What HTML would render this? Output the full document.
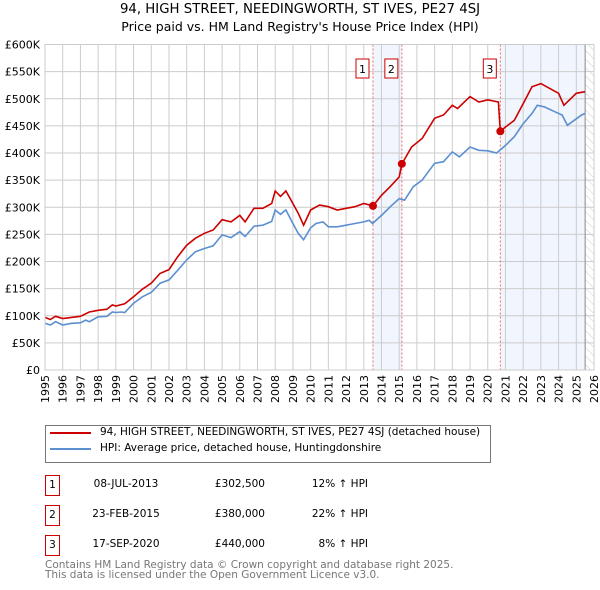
<!DOCTYPE html>
<html><head><meta charset="utf-8"><style>
body{margin:0;background:#fff;font-family:"DejaVu Sans","Liberation Sans",sans-serif;}
#wrap{position:relative;width:600px;height:590px;overflow:hidden}
</style></head><body><div id="wrap">
<svg id="svg" width="600" height="590" style="position:absolute;left:0;top:0" font-family="DejaVu Sans, Liberation Sans, sans-serif">
<defs><pattern id="hatch" width="6" height="6" patternUnits="userSpaceOnUse" patternTransform="rotate(-45)"><line x1="0" y1="0" x2="0" y2="6" stroke="#ccc" stroke-width="1"/></pattern></defs>
<text x="300" y="13" text-anchor="middle" font-size="13.3" fill="#000">94, HIGH STREET, NEEDINGWORTH, ST IVES, PE27 4SJ</text>
<text x="300" y="31" text-anchor="middle" font-size="12.5" fill="#000">Price paid vs. HM Land Registry's House Price Index (HPI)</text>
<g id="plot"></g>
</svg>
<div style="position:absolute;left:45px;top:425px;width:444px;height:36px;border:1px solid #777;font-size:10.5px">
 <div style="position:absolute;left:4px;top:6px;width:41px;height:2px;background:#cc0000"></div>
 <div style="position:absolute;left:54px;top:0px;white-space:nowrap">94, HIGH STREET, NEEDINGWORTH, ST IVES, PE27 4SJ (detached house)</div>
 <div style="position:absolute;left:4px;top:22px;width:41px;height:2px;background:#5b8fd0"></div>
 <div style="position:absolute;left:54px;top:16px;white-space:nowrap">HPI: Average price, detached house, Huntingdonshire</div>
</div>
<div id="table" style="position:absolute;left:0;top:0;font-size:10.5px"></div>
<div style="position:absolute;left:45px;top:560px;font-size:10.5px;color:#777;line-height:10px">Contains HM Land Registry data © Crown copyright and database right 2025.<br>This data is licensed under the Open Government Licence v3.0.</div>
</div>
<script>
const yTicks=[0,50,100,150,200,250,300,350,400,450,500,550,600];
const years=[1995,1996,1997,1998,1999,2000,2001,2002,2003,2004,2005,2006,2007,2008,2009,2010,2011,2012,2013,2014,2015,2016,2017,2018,2019,2020,2021,2022,2023,2024,2025,2026];
const hpiT=[1995,1995.3,1995.6,1996,1996.5,1997,1997.3,1997.5,1998,1998.5,1998.8,1999,1999.3,1999.5,2000,2000.5,2001,2001.5,2002,2002.5,2003,2003.5,2004,2004.5,2005,2005.5,2006,2006.3,2006.8,2007.3,2007.8,2008,2008.3,2008.6,2009,2009.3,2009.6,2010,2010.3,2010.7,2011,2011.5,2012,2012.5,2013,2013.3,2013.5,2014,2014.5,2015,2015.3,2015.8,2016.3,2017,2017.5,2018,2018.4,2019,2019.5,2020,2020.5,2021,2021.5,2022,2022.5,2022.8,2023.2,2023.8,2024.2,2024.5,2025,2025.3,2025.5];
const hpiV=[86,83,89,83,86,87,92,89,98,99,107,106,107,106,123,135,143,160,166,184,203,218,224,229,249,244,255,246,265,267,274,295,287,295,270,252,240,262,270,273,264,264,267,270,273,276,270,285,301,316,313,338,350,381,384,402,393,411,405,404,400,414,430,454,473,488,485,476,470,451,463,470,473];
const ppT=[1995,1995.3,1995.6,1996,1996.5,1997,1997.5,1998,1998.5,1998.8,1999,1999.5,2000,2000.5,2001,2001.5,2002,2002.5,2003,2003.5,2004,2004.5,2005,2005.5,2006,2006.3,2006.8,2007.3,2007.8,2008,2008.3,2008.6,2009,2009.3,2009.6,2010,2010.5,2011,2011.5,2012,2012.5,2013,2013.52,2014,2014.5,2015.0,2015.15,2015.7,2016.3,2017,2017.5,2018,2018.3,2019,2019.5,2020,2020.6,2020.71,2021,2021.5,2022,2022.5,2023,2023.5,2024,2024.3,2025,2025.5];
const ppV=[97,93,99,95,97,99,107,110,112,120,118,122,135,149,160,178,185,209,230,243,252,258,277,273,285,273,298,298,307,330,320,330,307,289,267,295,304,301,295,298,301,307,302.5,322,338,356,380,411,427,464,470,488,482,504,494,498,494,440,448,460,491,522,528,519,510,488,510,513];
const saleT=[2013.52,2015.15,2020.71];
const saleV=[302.5,380,440];
const saleLabels=["1","2","3"];
const saleDates=["08-JUL-2013","23-FEB-2015","17-SEP-2020"];
const salePrices=["£302,500","£380,000","£440,000"];
const saleHpi=["12% ↑ HPI","22% ↑ HPI","8% ↑ HPI"];
const dataEnd=2025.5;
const X0=45,X1=594,Y0=370,Y1=44.5;
const xs=t=>X0+(t-1995)/(2026-1995)*(X1-X0);
const ys=v=>Y0-v/600*(Y0-Y1);
const NS="http://www.w3.org/2000/svg";
const g=document.getElementById('plot');
function mk(tag,at,name){const e=document.createElementNS(NS,tag);for(const k in at)e.setAttribute(k,at[k]);


g.appendChild(e);return e;}
for(let i=0;i<saleT.length;i++){
 const end=i<saleT.length-1?saleT[i+1]:dataEnd;
 if(i===1)continue;
 mk('rect',{x:xs(saleT[i]),y:Y1,width:xs(end)-xs(saleT[i]),height:Y0-Y1,fill:'#eef3fc',opacity:0.8},'ownership-shade');
}
mk('rect',{x:xs(dataEnd),y:Y1,width:X1-xs(dataEnd),height:Y0-Y1,fill:'url(#hatch)'},'future-hatch');
yTicks.forEach(v=>{mk('line',{x1:X0,x2:X1,y1:ys(v),y2:ys(v),stroke:'#ccc','stroke-width':1},'y-gridline');
 const t=mk('text',{x:X0-5,y:ys(v)+4,'text-anchor':'end','font-size':'11',fill:'#000'},'y-tick-label');t.textContent=v===0?'£0':'£'+v+'K';});
years.forEach(y=>{mk('line',{x1:xs(y),x2:xs(y),y1:Y1,y2:Y0,stroke:'#ccc','stroke-width':1},'x-gridline');
 const t=mk('text',{x:0,y:0,'text-anchor':'end','font-size':'11',fill:'#000',transform:`translate(${xs(y)+4},${Y0+5}) rotate(-90)`},'x-tick-label');t.textContent=y;});
mk('line',{x1:xs(dataEnd),x2:xs(dataEnd),y1:Y1,y2:Y0,stroke:'#888','stroke-width':1},'data-end-line');
saleT.forEach((t,i)=>{mk('line',{x1:xs(t),x2:xs(t),y1:Y1,y2:Y0,stroke:'#e66','stroke-width':1,'stroke-dasharray':'2,2'},'sale-marker-line');});
const pts=(T,V)=>T.map((t,i)=>xs(t).toFixed(1)+','+ys(V[i]).toFixed(1)).join(' ');
mk('polyline',{points:pts(hpiT,hpiV),fill:'none',stroke:'#5b8fd0','stroke-width':1.6},'hpi-line');
mk('polyline',{points:pts(ppT,ppV),fill:'none',stroke:'#cc0000','stroke-width':1.6},'property-price-line');
saleT.forEach((t,i)=>{mk('circle',{cx:xs(t),cy:ys(saleV[i]),r:4,fill:'#cc0000'},'sale-point');
 mk('rect',{x:xs(t)-17,y:59,width:13,height:19,fill:'#fff',stroke:'#cc0000','stroke-width':1},'sale-label-box');
 const tx=mk('text',{x:xs(t)-10.5,y:73,'text-anchor':'middle','font-size':'11',fill:'#000'},'sale-label');tx.textContent=saleLabels[i];});
mk('rect',{x:X0,y:Y1,width:X1-X0,height:Y0-Y1,fill:'none',stroke:'#ccc'},'plot-frame');
const tb=document.getElementById('table');
saleT.forEach((t,i)=>{const top=475+i*30;
 const row=document.createElement('div');
 
 
 row.style.cssText=`position:absolute;left:0;top:${top}px;width:600px;height:20px`;
 row.innerHTML=`<div style="position:absolute;left:45px;top:0;width:13px;height:19px;border:1px solid #cc0000;text-align:center;line-height:18px">${saleLabels[i]}</div>
 <div style="position:absolute;left:76px;width:100px;top:3px;text-align:center">${saleDates[i]}</div>
 <div style="position:absolute;left:190px;width:75px;top:3px;text-align:right">${salePrices[i]}</div>
 <div style="position:absolute;left:290px;width:78px;top:3px;text-align:right">${saleHpi[i]}</div>`;
 tb.appendChild(row);});
</script></body></html>
